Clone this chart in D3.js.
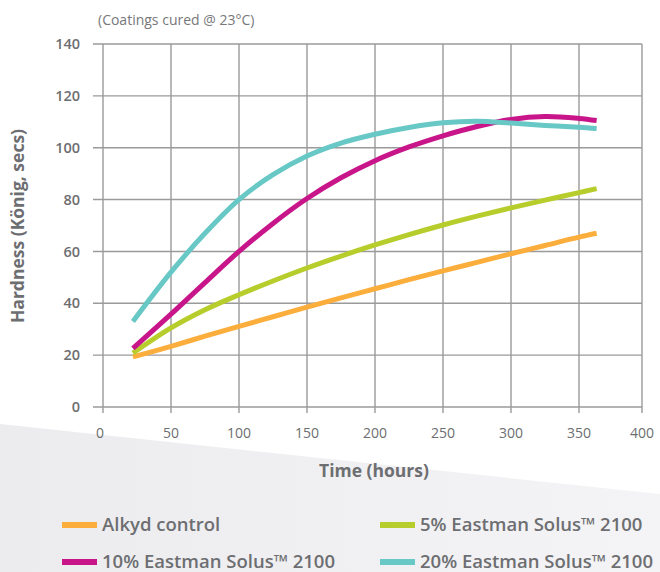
<!DOCTYPE html>
<html><head><meta charset="utf-8">
<script src="https://cdn.jsdelivr.net/npm/d3@7"></script>
<style>
body{margin:0;background:#fff;}
svg{display:block;font-family:"Open Sans",sans-serif;}
</style></head>
<body>
<script>
const hours = [22, 50, 75, 100, 125, 150, 175, 200, 225, 250, 275, 300, 325, 350, 364];
const alkyd = [19.3, 23.4, 27.3, 31.1, 34.8, 38.5, 42.1, 45.6, 49.1, 52.5, 55.8, 59.1, 62.3, 65.5, 67];
const solus5 = [20.8, 30.5, 37.5, 43.3, 48.6, 53.6, 58.2, 62.5, 66.5, 70.2, 73.6, 76.8, 79.8, 82.7, 84.2];
const solus10 = [22.6, 35.8, 48, 60, 70.8, 80.4, 88.4, 95, 100.3, 104.6, 108.2, 110.9, 112, 111.3, 110.5];
const solus20 = [33, 52, 67, 80, 89.6, 96.8, 101.8, 105.2, 107.8, 109.6, 110.2, 109.5, 108.6, 107.9, 107.4];
const xTicks = [0, 50, 100, 150, 200, 250, 300, 350, 400];
const yTicks = [0, 20, 40, 60, 80, 100, 120, 140];
const seriesNames = ["Alkyd control", "5% Eastman Solus\u2122 2100", "10% Eastman Solus\u2122 2100", "20% Eastman Solus\u2122 2100"];
const seriesColors = ["#FBAE3C", "#B6CD2B", "#C8168A", "#68C8C5"];
const seriesValues = [alkyd, solus5, solus10, solus20];

const W = 660, H = 572;
const svg = d3.select("body").append("svg").attr("width", W).attr("height", H);

const defs = svg.append("defs");
const grad = defs.append("linearGradient").attr("id", "bg").attr("x1", "0").attr("y1", "0").attr("x2", "1").attr("y2", "0");
grad.append("stop").attr("offset", "0").attr("stop-color", "#ececef");
grad.append("stop").attr("offset", "1").attr("stop-color", "#f4f4f6");
svg.append("path").attr("d", "M0,424 L660,494 L660,572 L0,572 Z").attr("fill", "url(#bg)");

const x = d3.scaleLinear().domain([0, 350, 400]).range([103, 579, 642]);
const y = d3.scaleLinear().domain([0, 140]).range([407, 44]);

const grid = "#9a9a9a";
const g = svg.append("g");
g.selectAll("line.h").data(yTicks).join("line")
  .attr("x1", 93).attr("x2", x(400))
  .attr("y1", d => y(d)).attr("y2", d => y(d))
  .attr("stroke", grid).attr("stroke-width", 1.4);
g.selectAll("line.v").data(xTicks).join("line")
  .attr("x1", d => x(d)).attr("x2", d => x(d))
  .attr("y1", y(140)).attr("y2", y(0) + 6)
  .attr("stroke", grid).attr("stroke-width", 1.4);

g.selectAll("text.yt").data(yTicks).join("text")
  .attr("x", 80).attr("y", d => y(d)).attr("dy", "0.35em")
  .attr("text-anchor", "end").attr("font-size", 14.5).attr("font-weight", 600)
  .attr("fill", "#6d6e71").text(d => d);
g.selectAll("text.xt").data(xTicks).join("text")
  .attr("x", d => x(d) - (d === 0 ? 3 : 0)).attr("y", 433).attr("dy", "0.35em")
  .attr("text-anchor", "middle").attr("font-size", 14).attr("font-weight", 400)
  .attr("fill", "#6d6e71").text(d => d);

const line = d3.line().x((d, i) => x(hours[i])).y(d => y(d)).curve(d3.curveCatmullRom.alpha(0.5));
seriesValues.forEach((vals, i) => {
  svg.append("path").datum(vals).attr("d", line)
    .attr("fill", "none").attr("stroke", seriesColors[i]).attr("stroke-width", 5);
});

svg.append("text").attr("x", 98).attr("y", 20).attr("dy", "0.35em")
  .attr("font-size", 14).attr("fill", "#77787b").text("(Coatings cured @ 23\u00B0C)");
svg.append("text").attr("transform", "translate(18,226) rotate(-90)")
  .attr("text-anchor", "middle").attr("dy", "0.35em")
  .attr("font-size", 17.5).attr("font-weight", 700).attr("fill", "#6d6e71")
  .text("Hardness (K\u00F6nig, secs)");
svg.append("text").attr("x", 374).attr("y", 471).attr("dy", "0.35em")
  .attr("text-anchor", "middle").attr("font-size", 17.5).attr("font-weight", 700)
  .attr("fill", "#6d6e71").text("Time (hours)");

const legPos = [[62, 525], [380, 525], [62, 562], [380, 562]];
seriesNames.forEach((name, i) => {
  const [lx, ly] = legPos[i];
  svg.append("rect").attr("x", lx).attr("y", ly - 3).attr("width", 35).attr("height", 6)
    .attr("fill", seriesColors[i]);
  svg.append("text").attr("x", lx + 40).attr("y", ly).attr("dy", "0.35em")
    .attr("font-size", 18.5).attr("font-weight", 600).attr("fill", "#6d6e71").text(name);
});
</script>
</body></html>
